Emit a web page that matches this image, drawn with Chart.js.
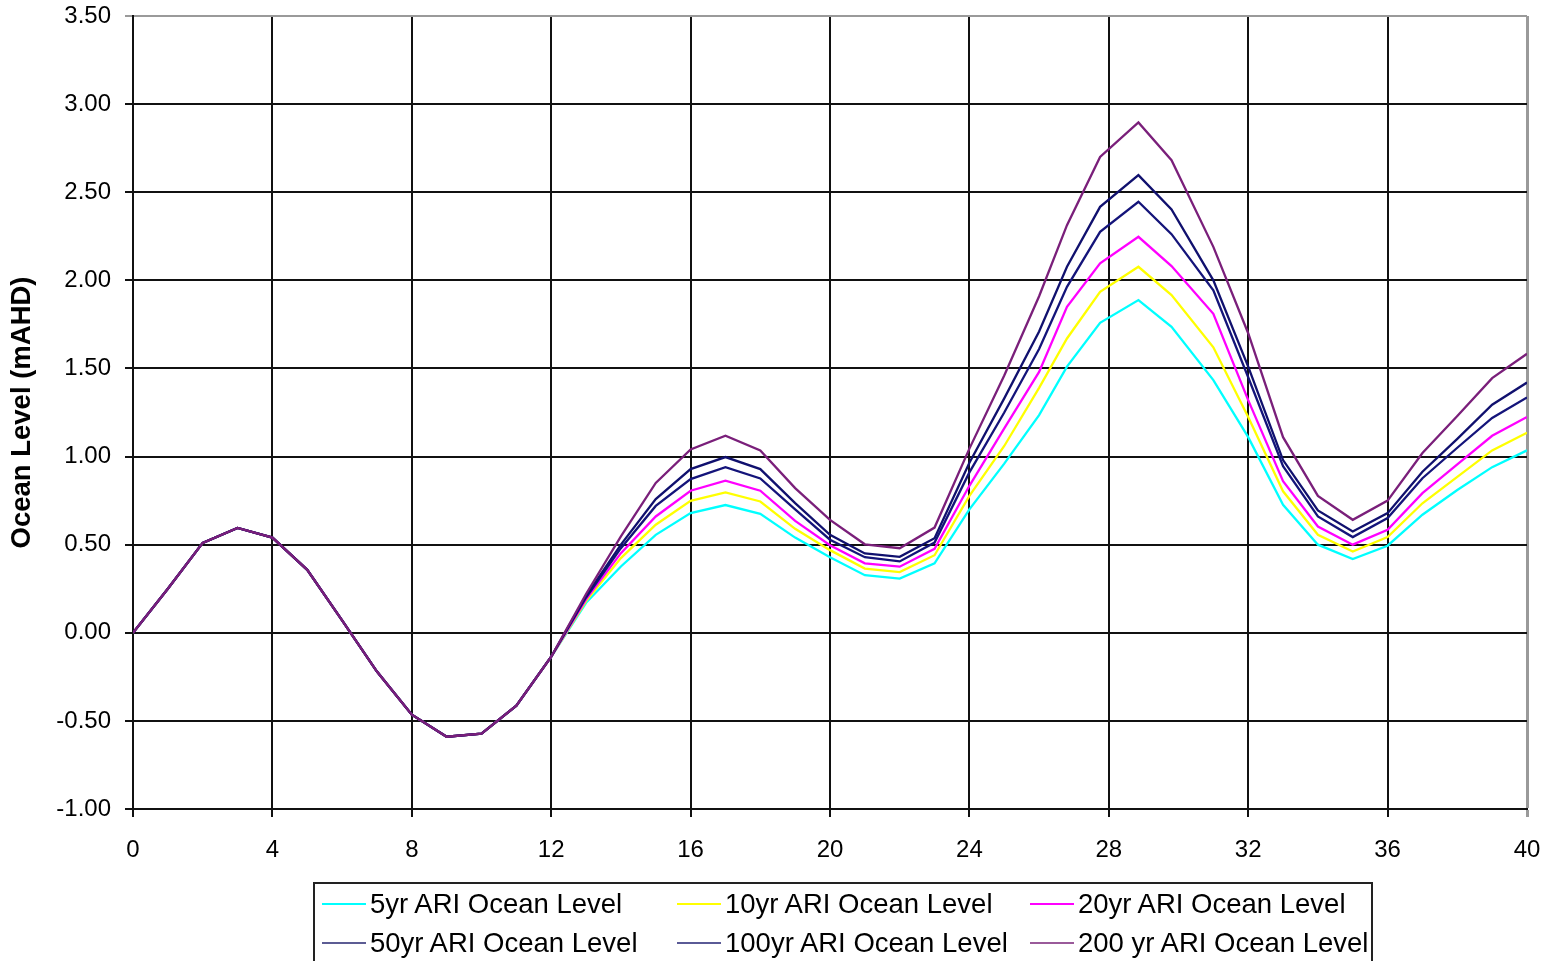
<!DOCTYPE html>
<html>
<head>
<meta charset="utf-8">
<script src="https://cdn.jsdelivr.net/npm/chart.js@4.4.1/dist/chart.umd.min.js"></script>
<style>
    body { margin: 0; background: #fff; }
    #wrap { position: relative; width: 1557px; height: 961px; overflow: hidden; }
    #legend {
        position: absolute; left: 313px; top: 882px; width: 1060px; height: 90px;
        border: 2px solid #222; box-sizing: border-box;
        font-family: "Liberation Sans", Arial, sans-serif; font-size: 27.5px; color: #000;
    }
    .item { position: absolute; height: 30px; line-height: 30px; white-space: nowrap; }
    .item span.swatch { position: absolute; left: 0; top: 14px; width: 44px; height: 2px; }
    .item span.txt { position: absolute; left: 48px; top: 0; }
</style>
</head>
<body>
<div id="wrap">
    <canvas id="oceanChart"></canvas>
    <div id="legend"></div>
</div>
<script>
//time (hours)
const hours = [0, 1, 2, 3, 4, 5, 6, 7, 8, 9, 10, 11, 12, 13, 14, 15, 16, 17, 18, 19, 20,
    21, 22, 23, 24, 25, 26, 26.8, 27.75, 28.85, 29.8, 31, 32, 33, 34, 35, 36, 37, 38, 39, 40];

//ocean levels (mAHD)
const level5 = [0, 0.25, 0.51, 0.595, 0.54, 0.357, 0.07, -0.22, -0.465, -0.59, -0.573, -0.414, -0.136,
    0.17, 0.376, 0.556, 0.679, 0.725, 0.675, 0.54, 0.428, 0.327, 0.307, 0.394, 0.70, 0.96, 1.235,
    1.51, 1.759, 1.888, 1.736, 1.434, 1.11, 0.726, 0.5, 0.418, 0.494, 0.67, 0.81, 0.94, 1.035];
const level10 = [0, 0.25, 0.51, 0.595, 0.54, 0.357, 0.07, -0.22, -0.465, -0.59, -0.573, -0.414, -0.136,
    0.18, 0.424, 0.613, 0.749, 0.796, 0.745, 0.59, 0.469, 0.364, 0.344, 0.44, 0.777, 1.06, 1.39,
    1.67, 1.935, 2.077, 1.916, 1.62, 1.225, 0.803, 0.556, 0.461, 0.543, 0.735, 0.885, 1.035, 1.135];
const level20 = [0, 0.25, 0.51, 0.595, 0.54, 0.357, 0.07, -0.22, -0.465, -0.59, -0.573, -0.414, -0.136,
    0.19, 0.452, 0.66, 0.806, 0.863, 0.806, 0.635, 0.497, 0.394, 0.375, 0.476, 0.834, 1.16, 1.48,
    1.85, 2.096, 2.247, 2.081, 1.81, 1.32, 0.86, 0.603, 0.5, 0.585, 0.792, 0.955, 1.118, 1.225];
const level50 = [0, 0.25, 0.51, 0.595, 0.54, 0.357, 0.07, -0.22, -0.465, -0.59, -0.573, -0.414, -0.136,
    0.2, 0.48, 0.72, 0.872, 0.94, 0.876, 0.70, 0.528, 0.429, 0.405, 0.512, 0.91, 1.25, 1.61,
    1.963, 2.275, 2.446, 2.262, 1.944, 1.45, 0.945, 0.66, 0.543, 0.651, 0.877, 1.05, 1.219, 1.335];
const level100 = [0, 0.25, 0.51, 0.595, 0.54, 0.357, 0.07, -0.22, -0.465, -0.59, -0.573, -0.414, -0.136,
    0.21, 0.5, 0.759, 0.929, 0.997, 0.929, 0.736, 0.556, 0.45, 0.431, 0.537, 0.965, 1.33, 1.71,
    2.077, 2.417, 2.597, 2.402, 2.0, 1.51, 0.98, 0.694, 0.575, 0.679, 0.914, 1.10, 1.294, 1.42];
const level200 = [0, 0.25, 0.51, 0.595, 0.54, 0.357, 0.07, -0.22, -0.465, -0.59, -0.573, -0.414, -0.136,
    0.22, 0.547, 0.85, 1.04, 1.118, 1.035, 0.821, 0.641, 0.502, 0.48, 0.597, 1.045, 1.46, 1.91,
    2.313, 2.70, 2.896, 2.682, 2.19, 1.70, 1.11, 0.777, 0.641, 0.75, 1.02, 1.23, 1.445, 1.583];

const seriesNames = ['5yr ARI Ocean Level', '10yr ARI Ocean Level', '20yr ARI Ocean Level',
    '50yr ARI Ocean Level', '100yr ARI Ocean Level', '200 yr ARI Ocean Level'];
const seriesColors = ['#00ffff', '#ffff00', '#ff00ff', '#14147a', '#10106e', '#7a1f7a'];
const swatchColors = ['#00ffff', '#ffff00', '#ff00ff', '#5c5c94', '#5a5a96', '#9a5a9a'];
const seriesValues = [level5, level10, level20, level50, level100, level200];

/*
* Chart data
*/
const datasets = [];
for (let i = 0; i < seriesNames.length; ++i) {
    datasets.push({
        label: seriesNames[i],
        data: hours.map((h, j) => ({ x: h, y: seriesValues[i][j] })),
        borderColor: seriesColors[i],
        backgroundColor: seriesColors[i],
        borderWidth: 2.3,
        pointRadius: 0,
        tension: 0,
        order: seriesNames.length - i,   //200yr drawn on top
    });
}

/*
* Chart options
*/
const tickFont = { family: '"Liberation Sans", Arial, sans-serif', size: 24 };

const options = {
    responsive: true,
    maintainAspectRatio: false,
    animation: false,
    layout: { padding: { left: 0, top: 16, right: 30, bottom: 92 } },
    plugins: {
        legend: { display: false },
        tooltip: { enabled: false },
    },
    scales: {
        x: {
            type: 'linear',
            min: 0,
            max: 40,
            afterFit: (scale) => {
                scale.height = 60;
                scale.paddingLeft = 0;
                scale.paddingRight = 0;
            },
            ticks: { stepSize: 4, color: '#000', font: tickFont, padding: 19, maxRotation: 0 },
            grid: {
                color: (ctx) => ctx.tick && ctx.tick.value == 40 ? '#9a9a9a' : '#111',
                lineWidth: (ctx) => ctx.tick && ctx.tick.value == 40 ? 3 : 2,
                tickLength: 8,
            },
            border: { color: '#111', width: 2 },
        },
        y: {
            min: -1,
            max: 3.5,
            afterFit: (scale) => {
                scale.width = 133;
                scale.paddingTop = 0;
                scale.paddingBottom = 0;
            },
            ticks: {
                stepSize: 0.5,
                color: '#000',
                font: tickFont,
                padding: 14,
                callback: (v) => Number(v).toFixed(2),
            },
            grid: {
                color: (ctx) => ctx.tick && ctx.tick.value == 3.5 ? '#9a9a9a' : '#111',
                lineWidth: 2,
                tickLength: 8,
            },
            border: { color: '#111', width: 2 },
            title: {
                display: true,
                text: 'Ocean Level (mAHD)',
                color: '#000',
                font: { family: '"Liberation Sans", Arial, sans-serif', size: 27.5, weight: 'bold' },
                padding: { top: 6, bottom: 0 },
            },
        },
    },
};

/*
* Chart
*/
const ctx = document.getElementById('oceanChart').getContext('2d');
const oceanChart = new Chart(ctx, {
    type: 'line',
    data: { datasets: datasets },
    options: options,
});

/*
* Legend (3 columns, 2 rows)
*/
const legendCols = [7, 362, 715];
const legendRows = [5, 44];
const legendBox = document.getElementById('legend');
for (let i = 0; i < seriesNames.length; ++i) {
    const item = document.createElement('div');
    item.className = 'item';
    item.style.left = legendCols[i % 3] + 'px';
    item.style.top = legendRows[Math.floor(i / 3)] + 'px';
    item.innerHTML = '<span class="swatch" style="background:' + swatchColors[i] + '"></span>'
        + '<span class="txt">' + seriesNames[i] + '</span>';
    legendBox.appendChild(item);
}
</script>
</body>
</html>
